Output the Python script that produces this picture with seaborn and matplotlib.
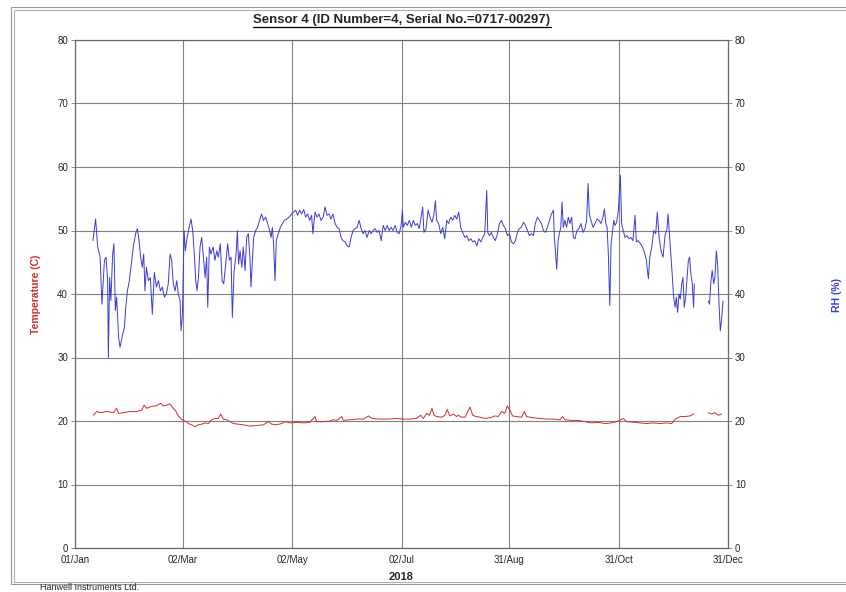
import matplotlib
matplotlib.use("Agg")
import matplotlib.pyplot as plt
import seaborn as sns
import pandas as pd
from matplotlib.patches import Rectangle
from matplotlib.lines import Line2D

sns.set_style("white")
plt.rcParams['font.family'] = ['Liberation Sans Narrow', 'Liberation Sans', 'DejaVu Sans']

title = "Sensor 4 (ID Number=4, Serial No.=0717-00297)"
tick_days = [0, 60, 121, 182, 242, 303, 364]
tick_labels = ["01/Jan", "02/Mar", "02/May", "02/Jul", "31/Aug", "31/Oct", "31/Dec"]

# RH readings (day of year, %)
rh_day = [10, 11.5, 12.6, 14, 15, 16.4, 17.3, 18.2, 18.6, 19.3, 20, 21, 21.7, 22.5, 23.2, 23.8,
          24.3, 25.1, 25.8, 26.6, 27.5, 28.3, 29.2, 30.3, 31.6, 32.5, 33.8, 34.8, 35.7, 36.6,
          37.5, 38.3, 39, 39.8, 40.9, 42, 43.1, 44.2, 45.4, 46.5, 47.6, 48.7, 49.8, 50.9, 52,
          53, 53.9, 54.8, 55.8, 56.7, 57.6, 58.6, 59.1, 59.9, 60.8, 61.5, 62.5, 63.6, 64.7,
          65.6, 66.5, 67.3, 68, 68.8, 69.7, 70.6, 71.6, 72.5, 73.4, 74, 74.9, 75.8, 77, 78,
          79, 79.9, 81, 82, 82.9, 84, 85.1, 86.1, 87, 87.7, 88.7, 89.8, 90.5, 91.2,
          92, 93, 93.8, 94.8, 95.7, 96.6, 97.5, 98.1, 98.8, 99.6, 100.7, 101.8, 102.9, 104,
          105.1, 106.3, 107.4, 108.5, 109.3, 110, 110.7, 111.5, 112.2, 113.3, 114.5, 115.6,
          116.7, 118, 119.3, 120.8, 121.9, 123, 124.1, 125.2, 126.3, 127.5, 128.6, 129.7,
          130.8, 131.9, 132.6, 133.8, 134.9, 136, 137.1, 138.3, 139.4, 140.5, 141.6, 142.7,
          143.8, 145, 146.1, 147.2, 148.3, 149.4, 150.6, 151.7, 152.8, 153.9, 155, 156.1,
          157.3, 158.4, 159.5, 160.6, 161.7, 162.8, 164, 165.1, 166.2, 167.3, 168.4, 169.5,
          170.7, 171.8, 172.9, 174, 175.1, 176.2, 177.3, 178.5, 179.6, 180.7, 181.8, 182.5,
          183, 184.1, 185.2, 186.4, 187.5, 188.6, 189.7, 190.8, 191.9, 192.9, 193.8, 194.5,
          195.7, 196.8, 197.9, 199, 200.1, 200.9, 201.6, 202.7, 203.9, 205, 206.1, 207.2,
          208.3, 209.4, 210.6, 211.7, 212.8, 213.9, 215, 216.1, 217.3, 218.4, 219.5, 220.6,
          221.7, 222.8, 224, 225.1, 226.2, 227.3, 228.4, 229.5, 230.1, 231, 232.1, 233.2,
          234.3, 235.5, 236.6, 237.7, 238.8, 239.9, 241, 242.2, 243.3, 244.4, 245.5, 246.6,
          247.7, 248.8, 250, 251.1, 252.2, 253.3, 254.4, 255.5, 256.6, 257.8, 258.9, 260,
          261.1, 262.2, 263.3, 264.5, 265.6, 266.7, 267.2, 267.8, 268.5, 269.3, 270, 270.8,
          271.5, 272.2, 273.1, 274, 275, 275.9, 276.8, 277.8, 278.7, 279.8, 280.9, 282,
          283.2, 284.3, 285.2, 286, 286.7, 287.6, 288.8, 289.9, 291, 292.1, 293.2, 294.3,
          295.1, 295.9, 296.6, 297.3, 298.1, 298.8, 299.5, 300.3, 301, 301.9, 302.9, 304,
          304.7, 305.6, 306.6, 307.7, 308.8, 309.9, 311, 312.2, 312.9, 314, 315.2, 316.3,
          317.4, 318.5, 319.6, 320.4, 321.5, 322.6, 323.7, 324.6, 325.6, 326.7, 327.8, 328.9,
          330, 330.6, 331.5, 332.2, 333, 333.7, 334.5, 335.2, 335.9, 336.7, 337.4, 338.2,
          338.9, 339.6, 340.4, 341.1, 341.9, 342.6, 343.3, 344.1, 344.8, 345.2,
          353, 353.7, 354.5, 355.2, 356, 356.7, 357.5, 358.2, 359, 359.7, 360.5, 361.2]
rh_val = [48.4, 51.8, 47.5, 45.8, 38.4, 45.3, 45.8, 42.1, 30.0, 42.6, 39.0, 46.3, 47.9, 37.4, 39.5, 36.3,
          33.2, 31.6, 32.6, 33.7, 34.7, 37.9, 40.5, 42.1, 45.3, 47.4, 49.5, 50.3, 48.4, 45.8,
          44.2, 46.3, 40.5, 44.2, 42.1, 42.6, 36.8, 43.4, 41.1, 42.1, 40.5, 41.1, 39.5, 40.0, 41.6,
          46.3, 45.3, 41.6, 40.5, 42.1, 40.0, 38.9, 34.2, 36.8, 50.0, 46.8, 48.9, 50.5, 51.8,
          50.0, 46.3, 42.1, 40.5, 42.6, 47.4, 48.9, 45.8, 42.6, 45.8, 37.9, 47.4, 46.3, 47.4, 45.3,
          46.8, 45.8, 47.9, 42.1, 41.6, 44.7, 47.9, 45.3, 45.8, 36.3, 43.7, 46.3, 50.0, 44.7,
          46.8, 44.2, 47.4, 43.7, 48.9, 49.5, 45.8, 41.1, 44.7, 48.9, 50.0, 50.5, 51.6, 52.6,
          51.6, 52.1, 51.1, 50.0, 48.9, 50.5, 47.9, 42.1, 48.4, 49.5, 50.5, 51.1,
          51.6, 51.8, 52.1, 52.6, 52.9, 53.2, 52.4, 53.2, 52.6, 53.3, 52.1, 52.6,
          51.6, 52.4, 49.5, 52.9, 52.1, 52.6, 51.6, 52.1, 53.7, 52.4, 52.6, 51.8,
          52.6, 51.1, 50.5, 50.3, 48.9, 48.4, 48.2, 47.6, 47.4, 48.9, 50.0, 50.3,
          50.5, 51.6, 50.3, 49.5, 50.0, 48.9, 50.0, 49.5, 50.0, 50.3, 49.7, 50.0,
          48.4, 50.8, 50.0, 50.8, 50.0, 50.5, 50.0, 50.8, 49.7, 49.5, 50.8, 53.2,
          50.5, 51.3, 50.8, 51.6, 50.5, 51.6, 50.8, 51.1, 50.3, 52.1, 53.7, 49.7,
          50.3, 53.2, 52.1, 51.3, 52.6, 54.7, 51.6, 51.1, 49.5, 50.5, 48.7, 51.6,
          51.1, 52.1, 51.6, 52.4, 51.8, 52.9, 50.5, 49.7, 48.9, 49.2, 48.4, 48.7,
          48.2, 48.4, 47.6, 48.7, 48.2, 48.9, 49.5, 56.3, 49.7, 49.2, 49.7, 48.9,
          48.4, 49.5, 51.1, 51.6, 50.8, 50.3, 49.2, 49.5, 48.2, 47.9, 48.4, 49.7,
          50.3, 50.5, 51.3, 50.8, 50.0, 49.2, 49.5, 49.2, 51.1, 52.1, 51.6, 51.1,
          50.0, 49.7, 50.5, 51.6, 52.6, 53.2, 48.9, 46.8, 43.9, 48.4, 49.5, 50.5,
          54.5, 50.5, 51.6, 50.5, 52.1, 51.1, 52.1, 48.9, 48.7, 50.0, 50.3, 51.1,
          49.7, 50.3, 51.6, 57.4, 52.6, 51.6, 50.5, 51.1, 51.8, 51.6, 51.1, 52.1,
          53.4, 51.1, 50.5, 46.3, 38.2, 47.9, 49.5, 51.6, 50.8, 51.3, 53.2, 58.7,
          51.1, 50.0, 48.9, 49.2, 48.7, 48.9, 48.4, 52.4, 48.2, 48.4, 47.9, 47.4,
          46.6, 45.3, 42.4, 45.8, 47.4, 50.0, 49.5, 52.9, 48.9, 46.8, 45.8, 49.2,
          50.3, 52.6, 48.9, 45.8, 42.6, 39.5, 37.9, 39.5, 37.1, 40.0, 39.2, 41.6,
          42.6, 37.9, 39.5, 42.1, 45.3, 45.8, 43.2, 41.6, 37.9, 41.6,
          38.9, 38.4, 42.1, 43.7, 41.6, 42.6, 46.8, 44.7, 38.4, 34.2, 36.3, 38.9]

# temperature readings (day of year, C)
temp_day = [10.2, 12.1, 13.9, 17.6, 21.4, 23.2, 24.2, 26.9, 30.7, 34.4, 37.2, 38.5, 39.9, 42.7,
            45.5, 47.7, 49.2, 51.1, 52.9, 54.8, 56.3, 57.6, 58.9, 60.4, 61.9, 63.2, 65, 66.9,
            68.7, 70.6, 72.4, 74.3, 76.2, 78, 79.9, 81.2, 82.7, 84.5, 86.4, 88.3, 91.1, 93.8,
            97.6, 101.3, 105, 107.8, 109.7, 112.4, 115.2, 117.1, 119.9, 123.6, 127.3, 131,
            133.8, 134.7, 138.5, 142.2, 144, 145.9, 148.7, 149.6, 153.3, 157.1, 160.8, 163.6,
            165.4, 170.1, 174.7, 179.3, 183, 186.7, 190.4, 192.7, 194.2, 196, 197.5, 199,
            200.1, 201.6, 204.4, 206.2, 207.5, 209, 210.9, 212.7, 213.7, 215.5, 217.4, 219.3,
            220.2, 221.7, 223.5, 225.8, 228.5, 231.3, 234.1, 235.9, 237.8, 239.6, 240.9, 242.4,
            243.9, 246.1, 248.9, 250.4, 251.7, 255.4, 259.1, 262.9, 266.6, 270.3, 271.8, 273.1,
            276.8, 280.5, 284.3, 288, 291.7, 295.4, 299.1, 301.9, 303.8, 305.6, 307.5, 311.2,
            314.9, 318.6, 322.4, 326.1, 329.8, 332.6, 334.5, 337.3, 340, 342.8, 345,
            353, 354.9, 356.7, 358.6, 360.4]
temp_val = [20.9, 21.5, 21.3, 21.5, 21.3, 22.0, 21.2, 21.3, 21.5, 21.5, 21.7, 22.5, 22.0, 22.3,
            22.4, 22.8, 22.4, 22.5, 22.7, 22.0, 21.5, 20.8, 20.4, 20.1, 19.9, 19.6, 19.4, 19.1,
            19.4, 19.5, 19.7, 19.6, 20.2, 20.4, 20.4, 21.1, 20.3, 20.2, 19.9, 19.6, 19.5, 19.4,
            19.2, 19.3, 19.4, 19.9, 19.5, 19.4, 19.6, 19.9, 19.7, 19.8, 19.7, 19.8,
            20.7, 19.9, 19.9, 20.0, 20.2, 20.1, 20.7, 20.1, 20.2, 20.3, 20.3, 20.8,
            20.4, 20.3, 20.3, 20.4, 20.3, 20.3, 20.4, 20.9, 20.4, 21.2, 20.9, 22.0,
            20.9, 20.7, 20.6, 20.9, 21.8, 20.8, 21.1, 20.7, 20.9, 20.6, 20.6, 21.7,
            22.2, 20.9, 20.7, 20.6, 20.4, 20.5, 20.8, 20.7, 21.5, 21.2, 22.4, 21.7,
            20.8, 20.7, 20.6, 21.5, 20.7, 20.5, 20.4, 20.3, 20.3, 20.2, 20.7, 20.2,
            20.1, 20.1, 19.9, 19.7, 19.8, 19.6, 19.7, 19.9, 20.1, 20.4, 19.9, 19.8,
            19.7, 19.6, 19.7, 19.6, 19.7, 19.6, 20.3, 20.7, 20.7, 20.8, 21.1,
            21.3, 21.1, 21.3, 20.9, 21.1]

rh_df = pd.DataFrame({"day": rh_day, "rh": rh_val})
rh_df["seg"] = (rh_df.day > 350).astype(int)
temp_df = pd.DataFrame({"day": temp_day, "temp": temp_val})
temp_df["seg"] = (temp_df.day > 350).astype(int)

W, H = 846, 592
fig = plt.figure(figsize=(W / 100, H / 100), dpi=100)
ax = fig.add_axes([75 / W, 1 - 548 / H, (728 - 75) / W, (548 - 40) / H])
ax2 = ax.twinx()

sns.lineplot(data=temp_df, x="day", y="temp", units="seg", estimator=None,
             color="#d42a2a", lw=0.7, ax=ax)
sns.lineplot(data=rh_df, x="day", y="rh", units="seg", estimator=None,
             color="#3b3bd6", lw=0.7, ax=ax2)

for a in (ax, ax2):
    a.set_xlim(0, 364)
    a.set_ylim(0, 80)
    a.set_yticks(range(0, 81, 10))
    a.tick_params(labelsize=7, length=3, width=0.6, color="#777", pad=2)
    for s in a.spines.values():
        s.set_color("#666")
        s.set_linewidth(0.8)

ax.set_xticks(tick_days)
ax.set_xticklabels(tick_labels)
ax.grid(True, color="#808080", lw=0.8)
ax.set_axisbelow(True)

ax.set_xlabel("2018", fontsize=8, fontweight="bold", labelpad=5)
ax.set_ylabel("Temperature (C)", fontsize=7.5, fontweight="bold", color="#d42a2a", labelpad=12)
ax2.set_ylabel("")
fig.text(837 / W, 1 - 295 / H, "RH (%)", rotation=90, fontsize=7.5, fontweight="bold",
         color="#3b3bd6", ha="center", va="center")

t = fig.text(402 / W, 1 - 23 / H, title, fontsize=9.5, fontweight="bold", ha="center", va="baseline")
fig.canvas.draw()
bb = t.get_window_extent(fig.canvas.get_renderer()).transformed(fig.transFigure.inverted())
fig.add_artist(Line2D([bb.x0, bb.x1], [bb.y0 - 0.002, bb.y0 - 0.002], color="black", lw=0.9,
                      transform=fig.transFigure))

fig.text(40 / W, 1 - 587 / H, "Hanwell Instruments Ltd.", fontsize=6.5, ha="left", va="center")

# outer frame with shadow line
fig.add_artist(Rectangle((11 / W, 1 - 584 / H), 1, (584 - 7) / H, transform=fig.transFigure,
                         fill=False, ec="#9a9a9a", lw=0.8))
fig.add_artist(Rectangle((14 / W, 1 - 581.5 / H), 1, (581.5 - 9.5) / H, transform=fig.transFigure,
                         fill=False, ec="#b0b0b0", lw=0.8))

fig.savefig("out.png", dpi=100)
